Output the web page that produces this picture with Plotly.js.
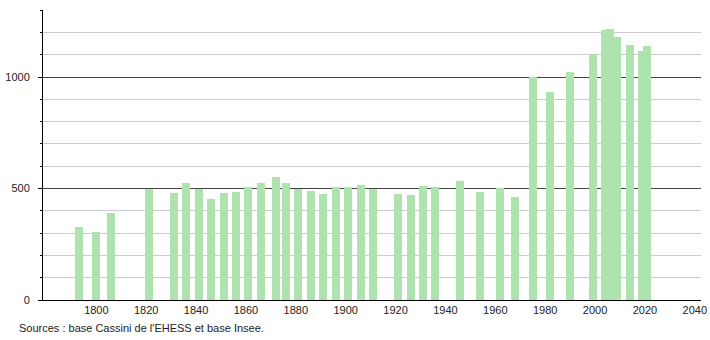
<!DOCTYPE html>
<html>
<head>
<meta charset="utf-8">
<script src="https://cdn.plot.ly/plotly-3.0.1.min.js"></script>
<style>html,body{margin:0;padding:0;background:#fff;}#chart{width:710px;height:340px;}</style>
</head>
<body>
<div id="chart"></div>
<script>
const years = [1793,1800,1806,1821,1831,1836,1841,1846,1851,1856,1861,1866,1872,1876,1881,1886,1891,1896,1901,1906,1911,1921,1926,1931,1936,1946,1954,1962,1968,1975,1982,1990,1999,2004,2006,2009,2014,2019,2021];
const population = [326,305,392,496,478,523,496,451,478,484,505,527,550,527,498,489,475,505,505,516,496,475,471,511,505,534,484,503,460,999,934,1022,1103,1210,1215,1178,1143,1117,1139];
const xTickVals = [1800,1820,1840,1860,1880,1900,1920,1940,1960,1980,2000,2020,2040];
const yTickVals = [0,500,1000];
const sourceText = "Sources : base Cassini de l'EHESS et base Insee.";

const font = {family: 'Liberation Sans, Arial, sans-serif', size: 11, color: '#222'};

Plotly.newPlot('chart', [{
  type: 'bar',
  x: years,
  y: population,
  width: 3.2,
  marker: {color: '#aee2ae', line: {width: 0}},
  hoverinfo: 'x+y'
}], {
  width: 710, height: 340,
  margin: {l: 43, r: 9, t: 10, b: 40, pad: 0},
  paper_bgcolor: '#fff', plot_bgcolor: '#fff',
  font: font,
  showlegend: false,
  bargap: 0,
  xaxis: {
    range: [1778.6, 2042.5],
    tickvals: xTickVals,
    ticks: '',
    showgrid: false,
    zeroline: false,
    showline: true, linecolor: '#000', linewidth: 1,
    tickfont: font,
    fixedrange: true
  },
  yaxis: {
    range: [0, 1301],
    tickvals: yTickVals,
    ticks: 'outside', ticklen: 4, tickcolor: '#000', tickwidth: 1,
    showgrid: true, gridcolor: '#444', gridwidth: 1,
    zeroline: false,
    showline: true, linecolor: '#000', linewidth: 1,
    tickfont: font,
    ticklabelstandoff: 6,
    minor: {dtick: 100, tick0: 0, ticks: 'outside', ticklen: 2, tickcolor: '#000', showgrid: true, gridcolor: '#cccccc', gridwidth: 1},
    fixedrange: true
  },
  annotations: [{
    xref: 'paper', yref: 'paper', x: -0.04, y: -0.097, xanchor: 'left', yanchor: 'middle',
    text: sourceText, showarrow: false, font: font
  }]
}, {displayModeBar: false, staticPlot: true});
</script>
</body>
</html>
